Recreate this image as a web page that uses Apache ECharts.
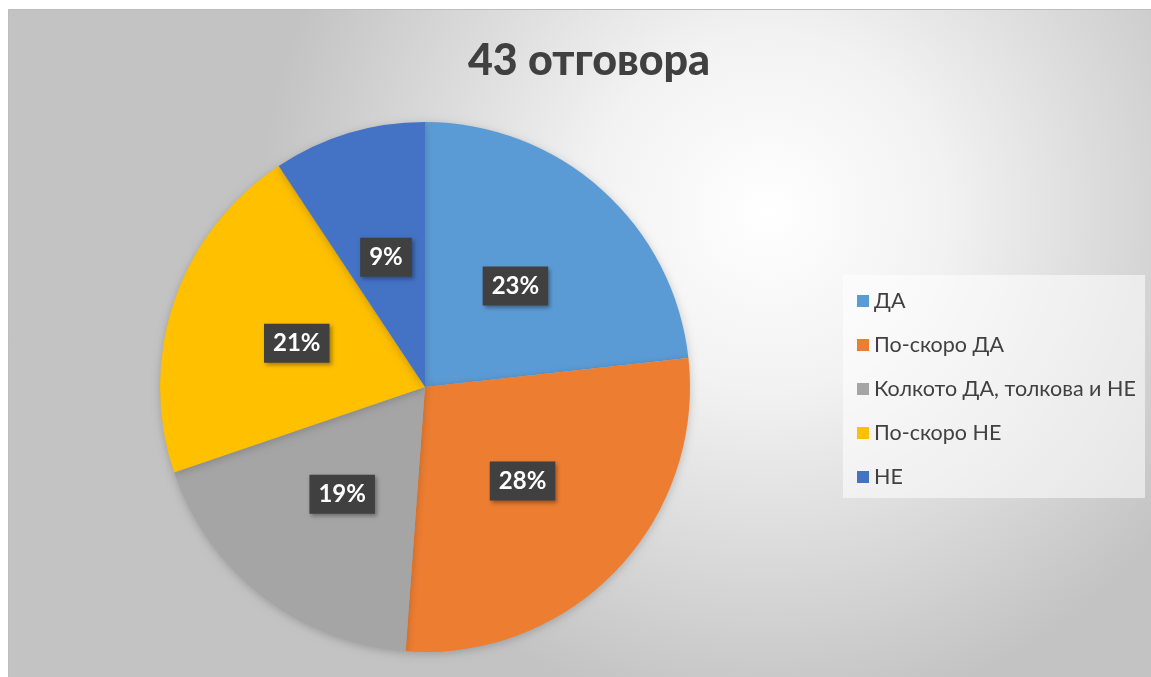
<!DOCTYPE html>
<html><head><meta charset="utf-8">
<script src="https://cdn.jsdelivr.net/npm/echarts@6/dist/echarts.min.js"></script>
<style>html,body{margin:0;padding:0;background:#fff}#c{width:1151px;height:677px}</style>
</head><body><div id="c"></div>
<script>
const categories = ['ДА', 'По-скоро ДА', 'Колкото ДА, толкова и НЕ', 'По-скоро НЕ', 'НЕ'];
const counts = [10, 12, 8, 9, 4];
const colors = ['#5B9BD5', '#ED7D31', '#A5A5A5', '#FFC000', '#4472C4'];
const titleText = '43 отговора';

const chart = echarts.init(document.getElementById('c'));
chart.setOption({
  animation: false,
  graphic: [
    { type: 'rect', z: -10, shape: { x: 8.5, y: 9.5, width: 1150, height: 675 },
      style: { fill: new echarts.graphic.RadialGradient(0.66, 0.3, 0.75, [
        { offset: 0, color: '#ffffff' }, { offset: 0.35, color: '#f2f2f2' }, { offset: 1, color: '#c3c3c3' }]),
        stroke: '#bdbdbd', lineWidth: 1 } },
    { type: 'rect', z: -5, shape: { x: 843, y: 275, width: 302, height: 223 },
      style: { fill: 'rgba(255,255,255,0.55)' } }
  ],
  title: { text: titleText, left: 584, top: 35, textAlign: 'center',
    textStyle: { fontFamily: 'Lato', fontWeight: 900, fontSize: 43, color: '#404040' } },
  legend: { orient: 'vertical', left: 852, top: 285, itemWidth: 12, itemHeight: 12, itemGap: 22,
    icon: 'rect', selectedMode: false,
    textStyle: { fontFamily: 'Lato', fontSize: 21.5, color: '#404040' } },
  series: [{
    type: 'pie', center: [425, 387], radius: 265, startAngle: 90, clockwise: true,
    data: categories.map((c, i) => ({ name: c, value: counts[i], itemStyle: { color: colors[i] } })),
    itemStyle: { shadowBlur: 8, shadowColor: 'rgba(0,0,0,0.2)', shadowOffsetY: 2 },
    label: { position: 'inside', formatter: p => Math.round(p.percent) + '%',
      fontFamily: 'Lato', fontWeight: 'bold', fontSize: 24, color: '#ffffff',
      backgroundColor: '#404040', padding: [8, 9, 7, 9],
      shadowBlur: 4, shadowColor: 'rgba(0,0,0,0.35)', shadowOffsetX: 2, shadowOffsetY: 2 },
    labelLine: { show: false }
  }]
});
</script></body></html>
